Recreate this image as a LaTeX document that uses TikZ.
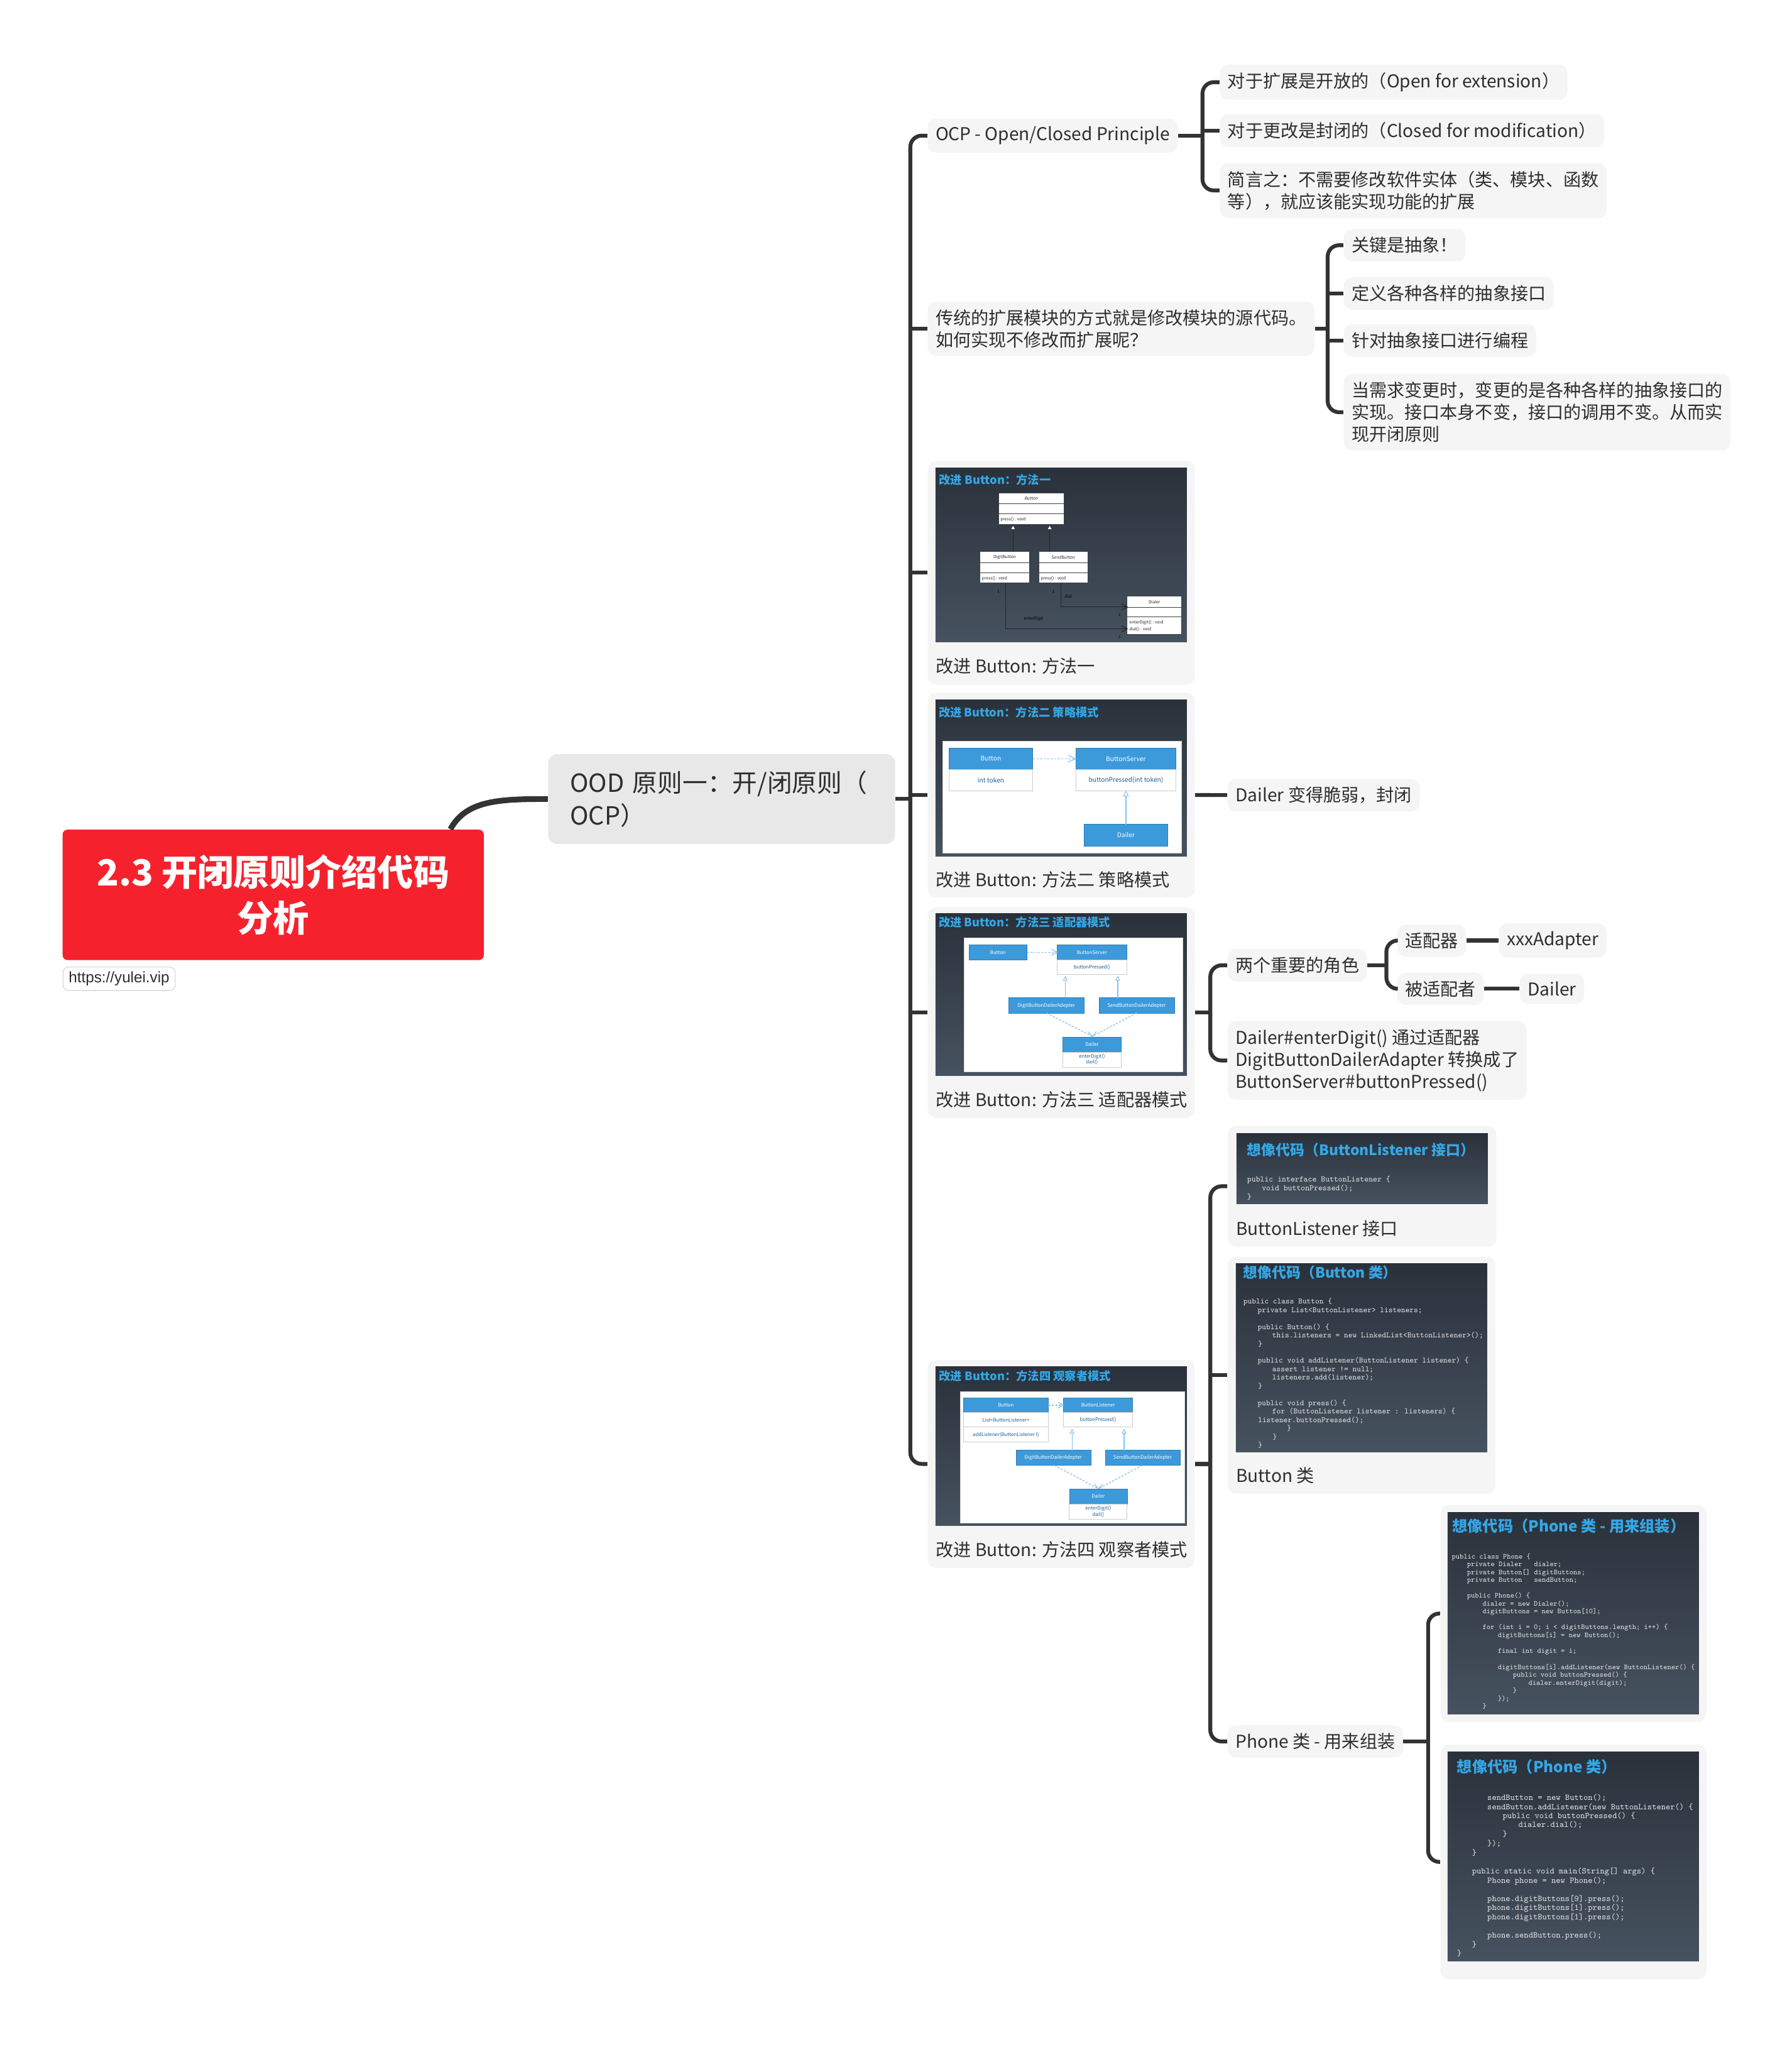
\documentclass[tikz,border=0pt]{standalone}
\usepackage{fontspec}
\setmainfont{Noto Sans CJK SC}
\newfontfamily\slantfont{Noto Sans CJK SC}[FakeSlant=0.2]
\newfontfamily\linkfont{Liberation Sans}
\usetikzlibrary{calc,fit}

\definecolor{ink}{HTML}{2E2E2E}
\definecolor{wirecol}{HTML}{333333}
\definecolor{pale}{HTML}{F5F5F5}
\definecolor{oodgray}{HTML}{E8E8E8}
\definecolor{rootred}{HTML}{F5222D}
\definecolor{slidetop}{HTML}{2A313B}
\definecolor{slidebot}{HTML}{46525F}
\definecolor{slideblue}{HTML}{35A7E6}
\definecolor{umlblue}{HTML}{3C9ADB}
\definecolor{umltxt}{HTML}{1D5E92}
\definecolor{dashblue}{HTML}{86C3EB}
\definecolor{codegray}{HTML}{DEDEDE}

\newcommand\fsz[2]{\fontsize{#1pt}{#2pt}\selectfont}
\newcounter{lnc}
\newcommand\codeln[3]{\stepcounter{lnc}\node[codetxt] (code-\arabic{lnc}) at (#1,{#2+11}) {#3};}

\tikzset{
  root/.style={fill=rootred, text=white, rounded corners=0.8mm, align=center,
    minimum width=67.05mm, minimum height=20.76mm, font=\bfseries\fsz{16.3}{20.7}},
  urlbox/.style={anchor=north west, fill=white, draw=black!14, line width=0.4pt,
    rounded corners=0.9mm, text=ink, font=\linkfont\fsz{6.9}{8}, inner xsep=0.9mm,
    inner ysep=0pt, minimum height=3.74mm},
  ood/.style={anchor=west, fill=oodgray, rounded corners=1.4mm, text=ink, align=left,
    font=\fsz{11.3}{14.8}, inner xsep=3.5mm, minimum height=14.3mm, text width=48.2mm},
  topic/.style={anchor=west, fill=pale, rounded corners=1.3mm, text=ink, align=left,
    inner xsep=1.25mm, inner ysep=3.6pt, font=\fsz{8}{10}},
  card/.style={fill=pale, rounded corners=1.3mm, inner sep=0pt},
  wire/.style={draw=wirecol, line width=1.75pt, rounded corners=1.8mm},
  slide/.style={top color=slidetop, bottom color=slidebot},
  slidetitle/.style={anchor=west, text=slideblue, font=\bfseries\fsz{5.2}{6}, inner sep=0pt},
  codetitle/.style={anchor=west, text=slideblue, font=\bfseries\fsz{6.5}{8}, inner sep=0pt},
  captxt/.style={anchor=west, text=ink, font=\fsz{8}{10}, inner sep=0pt},
  codetxt/.style={anchor=base west, text=codegray, inner sep=0pt},
  umlbox/.style={fill=white, draw=black!75, line width=0.3pt},
  umlline/.style={draw=black!85, line width=0.35pt},
  umla/.style={inner sep=0pt, text=black!85, font=\fsz{1.9}{2.2}},
  bluebox/.style={fill=umlblue, draw=umlblue!80!black, line width=0.2pt},
  bodybox/.style={fill=white, draw=black!20, line width=0.3pt},
  panel/.style={fill=white, draw=black!15, line width=0.3pt},
  dashline/.style={draw=dashblue, line width=0.35pt, dash pattern=on 1pt off 0.6pt},
  solidblue/.style={draw=dashblue, line width=0.35pt},
  hollow/.style={fill=white, draw=dashblue, line width=0.3pt},
}

\begin{document}
\begin{tikzpicture}[x=0.20757mm, y=-0.20757mm]
\fill[white] (0,0) rectangle (1374,1567.7);
\useasboundingbox (0,0) rectangle (1374,1567.7);

% ---------- central topic and main branch ----------
\node[root] (root) at (209.5,686) {2.3 开闭原则介绍代码\\分析};
\node[urlbox] (url) at (48,741) {https://yulei.vip};
\node[ood] (ood) at (420,612.5) {OOD 原则一：开/闭原则（\\OCP）};

% ---------- text topics ----------
\node[topic] (ocp) at (711,104) {OCP - Open/Closed Principle};
\node[topic] (oc1) at (935,63) {对于扩展是开放的（Open for extension）};
\node[topic] (oc2) at (935,100) {对于更改是封闭的（Closed for modification）};
\node[topic] (oc3) at (935,146) {简言之：不需要修改软件实体（类、模块、函数\\等），就应该能实现功能的扩展};

\node[topic] (trad) at (711,252) {传统的扩展模块的方式就是修改模块的源代码。\\如何实现不修改而扩展呢？};
\node[topic] (t1) at (1030,188) {关键是抽象！};
\node[topic] (t2) at (1030,225) {定义各种各样的抽象接口};
\node[topic] (t3) at (1030,261) {针对抽象接口进行编程};
\node[topic] (t4) at (1030,316) {当需求变更时，变更的是各种各样的抽象接口的\\实现。接口本身不变，接口的调用不变。从而实\\现开闭原则};

\node[topic] (fragile) at (941,609.5) {Dailer 变得脆弱，封闭};

\node[topic] (roles) at (941,740) {两个重要的角色};
\node[topic] (adapter) at (1071,721) {适配器};
\node[topic] (xxx) at (1149,721) {xxxAdapter};
\node[topic] (adaptee) at (1071,758) {被适配者};
\node[topic] (dl) at (1165,758) {Dailer};
\node[topic] (conv) at (941,813) {Dailer\#enterDigit() 通过适配器\\DigitButtonDailerAdapter 转换成了\\ButtonServer\#buttonPressed()};

\node[topic] (phone) at (941,1335) {Phone 类 - 用来组装};

% ---------- picture cards ----------
\node[card, fit={(711.4,353.3) (916.1,524.8)}] (m1) {};
\node[card, fit={(711.4,531.0) (916.1,687.9)}] (m2) {};
\node[card, fit={(711.4,695.6) (916.1,857.0)}] (m3) {};
\node[card, fit={(711.4,1042.5) (916.1,1202.0)}] (m4) {};
\node[card, fit={(941.3,863.2) (1147.4,955.5)}] (bl) {};
\node[card, fit={(941.3,963.5) (1146.6,1145.0)}] (bc) {};
\node[card, fit={(1104.5,1153.8) (1308.4,1320.0)}] (p1) {};
\node[card, fit={(1104.5,1337.4) (1308.4,1517.3)}] (p2) {};

% ---------- slide: method one ----------
\begin{scope}[shift={(684.1,346.9)}, scale=0.16059]
  \fill[slide] (207,73) rectangle (1407,905);
  \node[slidetitle] (m1-title) at (222,130) {改进 Button：方法一};
  \filldraw[umlbox] (508,193) rectangle (822,343);
  \draw[umlbox] (508,245) -- (822,245) (508,293) -- (822,293);
  \node[umla, font=\slantfont\fsz{1.9}{2.2}] (m1-a) at (663,220) {Button};
  \node[umla, anchor=west] (m1-b) at (515,319) {press() : void};
  \filldraw[umlbox] (420,473) rectangle (655,623);
  \draw[umlbox] (420,525) -- (655,525) (420,573) -- (655,573);
  \node[umla] (m1-c) at (537,501) {DigitButton};
  \node[umla, anchor=west] (m1-d) at (427,600) {press() : void};
  \filldraw[umlbox] (700,473) rectangle (935,623);
  \draw[umlbox] (700,525) -- (935,525) (700,573) -- (935,573);
  \node[umla] (m1-e) at (817,501) {SendButton};
  \node[umla, anchor=west] (m1-f) at (707,600) {press() : void};
  \draw[umlline] (577,473) -- (577,368) (752,473) -- (752,368);
  \filldraw[fill=white, draw=black!80, line width=0.3pt] (577,345) -- (565,368) -- (589,368) -- cycle;
  \filldraw[fill=white, draw=black!80, line width=0.3pt] (752,345) -- (740,368) -- (764,368) -- cycle;
  \filldraw[umlbox] (1122,685) rectangle (1383,867);
  \draw[umlbox] (1122,738) -- (1383,738) (1122,785) -- (1383,785);
  \node[umla] (m1-g) at (1252,712) {Dialer};
  \node[umla, anchor=west] (m1-h) at (1130,812) {enterDigit() : void};
  \node[umla, anchor=west] (m1-i) at (1130,845) {dial() : void};
  \draw[umlline] (805,623) -- (805,737) -- (1122,737);
  \draw[umlline] (1095,722) -- (1122,737) -- (1095,752);
  \draw[umlline] (541,623) -- (541,842) -- (1122,842);
  \draw[umlline] (1095,827) -- (1122,842) -- (1095,857);
  \node[umla, text=black] (m1-j) at (507,662) {1};
  \node[umla, text=black] (m1-k) at (770,662) {1};
  \node[umla, text=black] (m1-l) at (841,688) {dial};
  \node[umla, text=black] (m1-m) at (1086,775) {1};
  \node[umla, text=black] (m1-n) at (1086,880) {1};
  \node[umla, text=black] (m1-o) at (675,795) {enterDigit};
  \node[captxt] (m1-cap) at (207,1020) {改进 Button: 方法一};
\end{scope}

% ---------- slide: method two ----------
\begin{scope}[shift={(684.1,525.1)}, scale=0.16059, umla/.append style={font=\fsz{2.9}{3.3}}]
  \fill[slide] (207,72) rectangle (1407,817);
  \node[slidetitle] (m2-title) at (220,130) {改进 Button：方法二 策略模式};
  \filldraw[panel] (243,270) rectangle (1383,802);
  \filldraw[bluebox] (272,300) rectangle (670,403);
  \filldraw[bodybox] (272,403) rectangle (670,507);
  \node[umla, text=white] (m2-a) at (471,352) {Button};
  \node[umla, text=umltxt] (m2-b) at (471,455) {int token};
  \filldraw[bluebox] (877,300) rectangle (1355,403);
  \filldraw[bodybox] (877,403) rectangle (1355,507);
  \node[umla, text=white] (m2-c) at (1116,352) {ButtonServer};
  \node[umla, text=umltxt] (m2-d) at (1116,455) {buttonPressed(int token)};
  \draw[dashline] (672,352) -- (877,352);
  \draw[solidblue] (840,336) -- (877,352) -- (840,368);
  \filldraw[bluebox] (917,665) rectangle (1316,768);
  \node[umla, text=white] (m2-e) at (1116,716) {Dailer};
  \draw[solidblue] (1116,665) -- (1116,530);
  \filldraw[hollow] (1116,508) -- (1104,530) -- (1128,530) -- cycle;
  \node[captxt] (m2-cap) at (207,930) {改进 Button: 方法二 策略模式};
\end{scope}

% ---------- slide: method three ----------
\begin{scope}[shift={(684.1,693.7)}, scale=0.16059, umla/.append style={font=\fsz{2.2}{2.6}}]
  \fill[slide] (207,42) rectangle (1407,815);
  \node[slidetitle] (m3-title) at (220,82) {改进 Button：方法三 适配器模式};
  \filldraw[panel] (345,157) rectangle (1388,798);
  \filldraw[bluebox] (366,190) rectangle (644,263);
  \node[umla, text=white] (m3-a) at (505,226) {Button};
  \filldraw[bluebox] (788,190) rectangle (1120,262);
  \filldraw[bodybox] (788,262) rectangle (1120,333);
  \node[umla, text=white] (m3-b) at (954,226) {ButtonServer};
  \node[umla, text=umltxt] (m3-c) at (954,297) {buttonPressed()};
  \draw[dashline] (644,226) -- (788,226);
  \draw[solidblue] (760,212) -- (788,226) -- (760,240);
  \filldraw[bluebox] (555,443) rectangle (917,516);
  \node[umla, text=white] (m3-d) at (736,480) {DigitButtonDailerAdepter};
  \filldraw[bluebox] (987,443) rectangle (1348,516);
  \node[umla, text=white] (m3-e) at (1167,480) {SendButtonDailerAdepter};
  \draw[solidblue] (826,443) -- (826,360) (1077,443) -- (1077,360);
  \filldraw[hollow] (826,342) -- (817,360) -- (835,360) -- cycle;
  \filldraw[hollow] (1077,342) -- (1068,360) -- (1086,360) -- cycle;
  \draw[dashline] (737,516) -- (955,628);
  \draw[dashline] (1167,516) -- (955,628);
  \draw[solidblue] (935,605) -- (955,628) -- (975,605);
  \filldraw[bluebox] (815,630) rectangle (1093,703);
  \filldraw[bodybox] (815,703) rectangle (1093,775);
  \node[umla, text=white] (m3-f) at (954,666) {Dailer};
  \node[umla, text=umltxt] (m3-g) at (954,725) {enterDigit()};
  \node[umla, text=umltxt] (m3-h) at (954,752) {dail()};
  \node[captxt] (m3-cap) at (207,930) {改进 Button: 方法三 适配器模式};
\end{scope}

% ---------- slide: method four ----------
\begin{scope}[shift={(684.1,1040.6)}, scale=0.16059, umla/.append style={font=\fsz{2.2}{2.6}}]
  \fill[slide] (207,45) rectangle (1407,803);
  \node[slidetitle] (m4-title) at (222,88) {改进 Button：方法四 观察者模式};
  \filldraw[panel] (325,165) rectangle (1397,790);
  \filldraw[bluebox] (341,193) rectangle (745,263);
  \filldraw[bodybox] (341,263) rectangle (745,333);
  \filldraw[bodybox] (341,333) rectangle (745,405);
  \node[umla, text=white] (m4-a) at (543,228) {Button};
  \node[umla, text=umltxt] (m4-b) at (543,298) {List<ButtonListener>};
  \node[umla, text=umltxt] (m4-c) at (543,369) {addListener(ButtonListener l)};
  \filldraw[bluebox] (818,193) rectangle (1148,263);
  \filldraw[bodybox] (818,263) rectangle (1148,333);
  \node[umla, text=white] (m4-d) at (983,228) {ButtonListener};
  \node[umla, text=umltxt] (m4-e) at (983,298) {buttonPressed()};
  \draw[dashline] (745,228) -- (818,228);
  \draw[solidblue] (792,214) -- (818,228) -- (792,242);
  \filldraw[bluebox] (591,443) rectangle (948,515);
  \node[umla, text=white] (m4-f) at (769,479) {DigitButtonDailerAdepter};
  \filldraw[bluebox] (1017,443) rectangle (1376,515);
  \node[umla, text=white] (m4-g) at (1196,479) {SendButtonDailerAdepter};
  \draw[solidblue] (859,443) -- (859,361) (1107,443) -- (1107,361);
  \filldraw[hollow] (859,343) -- (850,361) -- (868,361) -- cycle;
  \filldraw[hollow] (1107,343) -- (1098,361) -- (1116,361) -- cycle;
  \draw[dashline] (775,515) -- (985,627);
  \draw[dashline] (1193,515) -- (985,627);
  \draw[solidblue] (965,605) -- (985,627) -- (1005,605);
  \filldraw[bluebox] (846,628) rectangle (1122,700);
  \filldraw[bodybox] (846,700) rectangle (1122,772);
  \node[umla, text=white] (m4-h) at (984,663) {Dailer};
  \node[umla, text=umltxt] (m4-i) at (984,722) {enterDigit()};
  \node[umla, text=umltxt] (m4-j) at (984,749) {dail()};
  \node[captxt] (m4-cap) at (207,918) {改进 Button: 方法四 观察者模式};
\end{scope}

% ---------- code slide: ButtonListener ----------
\begin{scope}[shift={(934.6,862.4)}, scale=0.16059, codetxt/.append style={font=\ttfamily\fsz{3.7}{4}}]
  \fill[slide] (84,40) rectangle (1284,377);
  \node[codetitle] (bl-title) at (133,120) {想像代码（ButtonListener 接口）};
  \codeln{133}{261}{public interface ButtonListener \{}
  \codeln{203}{301}{void buttonPressed();}
  \codeln{133}{343}{\}}
  \node[captxt] (bl-cap) at (80,495) {ButtonListener 接口};
\end{scope}

% ---------- code slide: Button class ----------
\begin{scope}[shift={(934.6,958.7)}, scale=0.16059, codetxt/.append style={font=\ttfamily\fsz{3.6}{4}}]
  \fill[slide] (81,63) rectangle (1281,963);
  \node[codetitle] (bc-title) at (115,105) {想像代码（Button 类）};
  \codeln{115}{243}{public class Button \{}
  \codeln{183}{284}{private List<ButtonListener> listeners;}
  \codeln{183}{365}{public Button() \{}
  \codeln{253}{406}{this.listeners = new LinkedList<ButtonListener>();}
  \codeln{185}{446}{\}}
  \codeln{183}{526}{public void addListener(ButtonListener listener) \{}
  \codeln{253}{566}{assert listener != null;}
  \codeln{253}{607}{listeners.add(listener);}
  \codeln{185}{648}{\}}
  \codeln{183}{728}{public void press() \{}
  \codeln{253}{768}{for (ButtonListener listener : listeners) \{}
  \codeln{185}{810}{listener.buttonPressed();}
  \codeln{323}{850}{\}}
  \codeln{255}{890}{\}}
  \codeln{185}{930}{\}}
  \node[captxt] (bc-cap) at (80,1073) {Button 类};
\end{scope}

% ---------- code slide: Phone assembly ----------
\begin{scope}[shift={(1103.2,1151.4)}, scale=0.16059, codetxt/.append style={font=\ttfamily\fsz{3.36}{4}}]
  \fill[slide] (42,50) rectangle (1242,1012);
  \node[codetitle, font=\bfseries\fsz{6.9}{8}] (p1-title) at (62,115) {想像代码（Phone 类 - 用来组装）};
  \codeln{60}{260}{public class Phone \{}
  \codeln{133}{297}{private Dialer~~~dialer;}
  \codeln{133}{335}{private Button[] digitButtons;}
  \codeln{133}{372}{private Button~~~sendButton;}
  \codeln{133}{447}{public Phone() \{}
  \codeln{207}{486}{dialer = new Dialer();}
  \codeln{207}{523}{digitButtons = new Button[10];}
  \codeln{207}{598}{for (int i = 0; i < digitButtons.length; i++) \{}
  \codeln{280}{637}{digitButtons[i] = new Button();}
  \codeln{280}{712}{final int digit = i;}
  \codeln{280}{788}{digitButtons[i].addListener(new ButtonListener() \{}
  \codeln{352}{825}{public void buttonPressed() \{}
  \codeln{426}{864}{dialer.enterDigit(digit);}
  \codeln{352}{901}{\}}
  \codeln{280}{940}{\});}
  \codeln{207}{976}{\}}
\end{scope}

% ---------- code slide: Phone main ----------
\begin{scope}[shift={(1103.2,1334.5)}, scale=0.16059, codetxt/.append style={font=\ttfamily\fsz{3.9}{4.5}}]
  \fill[slide] (42,52) rectangle (1242,1052);
  \node[codetitle, font=\bfseries\fsz{6.9}{8}] (p2-title) at (85,125) {想像代码（Phone 类）};
  \codeln{230}{273}{sendButton = new Button();}
  \codeln{230}{317}{sendButton.addListener(new ButtonListener() \{}
  \codeln{303}{360}{public void buttonPressed() \{}
  \codeln{378}{403}{dialer.dial();}
  \codeln{303}{447}{\}}
  \codeln{230}{491}{\});}
  \codeln{157}{537}{\}}
  \codeln{157}{624}{public static void main(String[] args) \{}
  \codeln{230}{668}{Phone phone = new Phone();}
  \codeln{230}{755}{phone.digitButtons[9].press();}
  \codeln{230}{799}{phone.digitButtons[1].press();}
  \codeln{230}{843}{phone.digitButtons[1].press();}
  \codeln{230}{930}{phone.sendButton.press();}
  \codeln{157}{975}{\}}
  \codeln{85}{1018}{\}}
\end{scope}

% ---------- connectors ----------
\draw[wire, line width=2.6pt] ($(root.north east)+(-26,0)$) .. controls ($(root.north east)+(-14,-22)$) and ($(ood.west)+(-38,0)$) .. (ood.west);

\coordinate (sp) at (698,0);
\draw[wire] (ood.east) -- (ood.east -| sp);
\draw[wire] (ocp.west) -- (ocp.west -| sp) -- (m4.west -| sp) -- (m4.west);
\draw[wire] (trad.west -| sp) -- (trad.west);
\draw[wire] (m1.west -| sp) -- (m1.west);
\draw[wire] (m2.west -| sp) -- (m2.west);
\draw[wire] (m3.west -| sp) -- (m3.west);

\coordinate (s1) at (922,0);
\draw[wire] (ocp.east) -- (ocp.east -| s1);
\draw[wire] (oc1.west) -- (oc1.west -| s1) -- (oc3.west -| s1) -- (oc3.west);
\draw[wire] (oc2.west -| s1) -- (oc2.west);

\coordinate (s2) at (1018,0);
\draw[wire] (trad.east) -- (trad.east -| s2);
\draw[wire] (t1.west) -- (t1.west -| s2) -- (t4.west -| s2) -- (t4.west);
\draw[wire] (t2.west -| s2) -- (t2.west);
\draw[wire] (t3.west -| s2) -- (t3.west);

\draw[wire] (m2.east) -- (fragile.west);

\coordinate (s3) at (928,0);
\draw[wire] (m3.east) -- (m3.east -| s3);
\draw[wire] (roles.west) -- (roles.west -| s3) -- (conv.west -| s3) -- (conv.west);

\coordinate (s4) at (1063,0);
\draw[wire] (roles.east) -- (roles.east -| s4);
\draw[wire] (adapter.west) -- (adapter.west -| s4) -- (adaptee.west -| s4) -- (adaptee.west);
\draw[wire] (adapter.east) -- (xxx.west);
\draw[wire] (adaptee.east) -- (dl.west);

\coordinate (s5) at (928,0);
\draw[wire] (m4.east) -- (m4.east -| s5);
\draw[wire] (bl.west) -- (bl.west -| s5) -- (phone.west -| s5) -- (phone.west);
\draw[wire] (bc.west -| s5) -- (bc.west);

\coordinate (s6) at (1095,0);
\draw[wire] (phone.east) -- (phone.east -| s6);
\draw[wire] (p1.west) -- (p1.west -| s6) -- (p2.west -| s6) -- (p2.west);
\end{tikzpicture}
\end{document}
